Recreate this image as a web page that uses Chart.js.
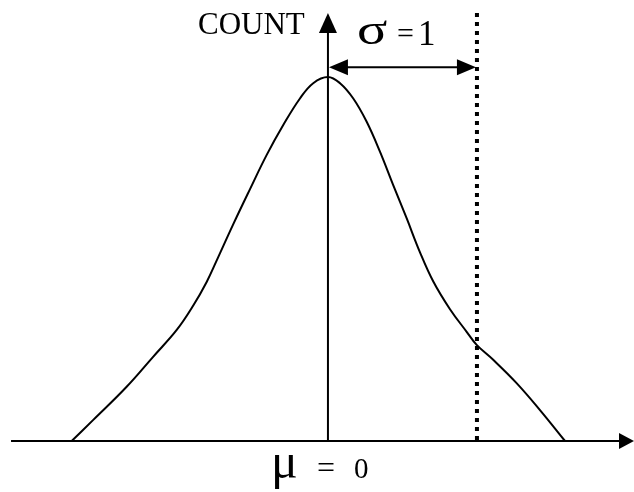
<!DOCTYPE html>
<html>
<head>
<meta charset="utf-8">
<script src="https://cdn.jsdelivr.net/npm/chart.js@4.4.0/dist/chart.umd.min.js"></script>
<style>
    body { margin: 0; background: #fff; }
    #wrap { width: 634px; height: 492px; position: relative; }
</style>
</head>
<body>
<div id="wrap"><canvas id="grafico"></canvas></div>
<script>
// curva (x em unidades de sigma, y = contagem relativa)
var curvaX = [-1.72, -1.575, -1.351, -1.172, -1.015, -0.904, -0.814, -0.751, -0.636, -0.523, -0.411, -0.300, -0.188, -0.099, 0,
              0.081, 0.170, 0.260, 0.349, 0.438, 0.528, 0.617, 0.707, 0.819, 0.931, 0.998, 1.109, 1.266, 1.423, 1.591];
var curvaY = [0, 0.058, 0.149, 0.232, 0.305, 0.372, 0.437, 0.492, 0.595, 0.692, 0.786, 0.868, 0.941, 0.983, 1.0,
              0.983, 0.941, 0.877, 0.795, 0.703, 0.612, 0.519, 0.438, 0.362, 0.300, 0.264, 0.223, 0.159, 0.085, 0];

var media = 0;
var sigma = 1;
var rotuloEixo = "COUNT";
var rotuloSigma = ["\u03C3", "=", "1"];
var rotuloMedia = ["\u03BC", "=", "0"];

var pontos = [];
for (let i = 0; i < curvaX.length; i++) {
    pontos.push({x: curvaX[i], y: curvaY[i]});
}

function seta(ctx, x1, y1, x2, y2, comp, larg) {
    var ang = Math.atan2(y2 - y1, x2 - x1);
    ctx.beginPath();
    ctx.moveTo(x2, y2);
    ctx.lineTo(x2 - comp * Math.cos(ang) + larg * Math.sin(ang), y2 - comp * Math.sin(ang) - larg * Math.cos(ang));
    ctx.lineTo(x2 - comp * Math.cos(ang) - larg * Math.sin(ang), y2 - comp * Math.sin(ang) + larg * Math.cos(ang));
    ctx.closePath();
    ctx.fill();
}

var desenhoEixos = {
    id: 'desenhoEixos',
    afterDatasetsDraw: function(chart) {
        var ctx = chart.ctx;
        var xs = chart.scales.x;
        var ys = chart.scales.y;
        var area = chart.chartArea;
        var x0 = xs.getPixelForValue(media);
        var xSig = xs.getPixelForValue(media + sigma);
        var yBase = ys.getPixelForValue(0);
        var yTopo = ys.getPixelForValue(1.176);
        var ySeta = ys.getPixelForValue(1.027);

        ctx.save();
        ctx.strokeStyle = '#000';
        ctx.fillStyle = '#000';
        ctx.lineWidth = 2;

        // eixo x
        ctx.beginPath();
        ctx.moveTo(xs.getPixelForValue(-2.127), yBase);
        ctx.lineTo(area.right - 10, yBase);
        ctx.stroke();
        seta(ctx, area.left, yBase, area.right, yBase, 15, 8);

        // eixo y
        ctx.beginPath();
        ctx.moveTo(x0, yBase);
        ctx.lineTo(x0, yTopo + 12);
        ctx.stroke();
        seta(ctx, x0, yBase, x0, yTopo, 20, 9);

        // seta do sigma
        ctx.beginPath();
        ctx.moveTo(x0 + 12, ySeta);
        ctx.lineTo(xSig - 12, ySeta);
        ctx.stroke();
        seta(ctx, xSig, ySeta, x0 + 1, ySeta, 19, 8);
        seta(ctx, x0, ySeta, xSig - 1, ySeta, 19, 8);

        // linha pontilhada em mu + sigma
        ctx.lineWidth = 4;
        ctx.setLineDash([4, 5]);
        ctx.beginPath();
        ctx.moveTo(xSig, yTopo);
        ctx.lineTo(xSig, yBase);
        ctx.stroke();
        ctx.setLineDash([]);

        // textos
        ctx.textBaseline = 'alphabetic';
        ctx.textAlign = 'left';
        ctx.font = '31px "Liberation Serif"';
        ctx.fillText(rotuloEixo, x0 - 130, yTopo + 21);

        ctx.save();
        ctx.translate(x0 + 29, yTopo + 31);
        ctx.scale(1.25, 1);
        ctx.font = '45px "Liberation Serif"';
        ctx.fillText(rotuloSigma[0], 0, 0);
        ctx.restore();
        ctx.font = '30px "Liberation Serif"';
        ctx.fillText(rotuloSigma[1], x0 + 69, yTopo + 30);
        ctx.font = '35px "Liberation Serif"';
        ctx.fillText(rotuloSigma[2], x0 + 90, yTopo + 32);

        ctx.font = '50px "Liberation Serif"';
        ctx.fillText(rotuloMedia[0], x0 - 57, yBase + 37);
        ctx.font = '32px "Liberation Serif"';
        ctx.fillText(rotuloMedia[1], x0 - 11, yBase + 37);
        ctx.font = '29px "Liberation Serif"';
        ctx.fillText(rotuloMedia[2], x0 + 26, yBase + 37);
        ctx.restore();
    }
};

new Chart(document.getElementById("grafico").getContext("2d"), {
    type: "scatter",
    data: {
        datasets: [{
            data: pontos,
            showLine: true,
            borderColor: "#000",
            borderWidth: 2,
            pointRadius: 0,
            tension: 0.4,
            fill: false
        }]
    },
    options: {
        responsive: true,
        maintainAspectRatio: false,
        animation: false,
        layout: { padding: 0 },
        plugins: {
            legend: { display: false },
            tooltip: { enabled: false }
        },
        scales: {
            x: { type: 'linear', display: false, min: -2.201, max: 2.054 },
            y: { type: 'linear', display: false, min: -0.1401, max: 1.2115 }
        }
    },
    plugins: [desenhoEixos]
});
</script>
</body>
</html>
